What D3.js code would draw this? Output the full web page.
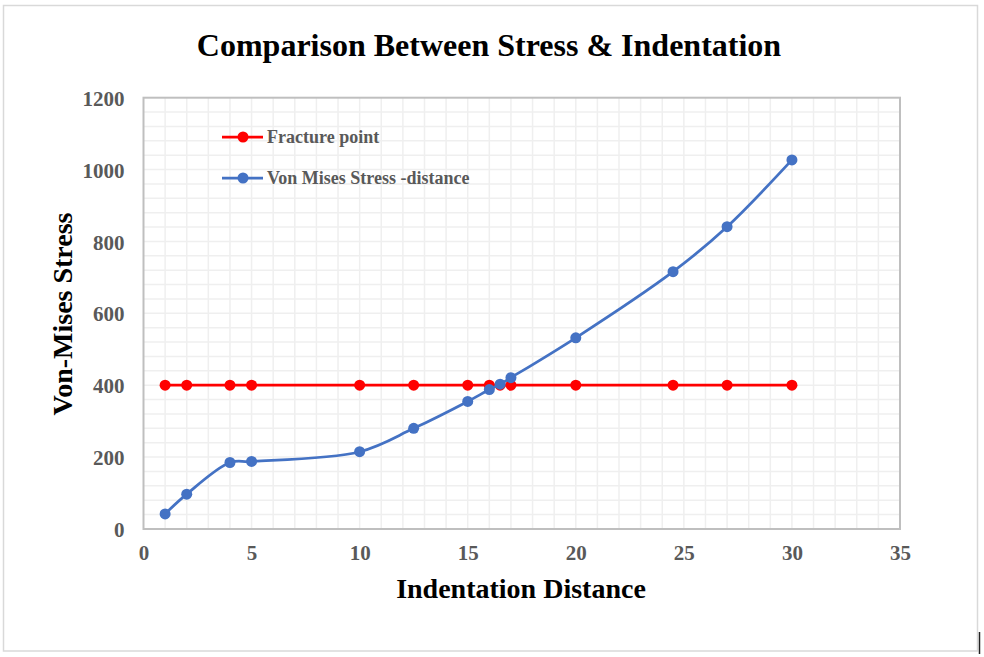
<!DOCTYPE html>
<html>
<head>
<meta charset="utf-8">
<script src="https://cdn.jsdelivr.net/npm/d3@7"></script>
<style>
  html, body { margin: 0; padding: 0; background: #fff; }
  svg { display: block; }
</style>
</head>
<body>
<script>
// ---- Data ----
const distance = [1, 2, 4, 5, 10, 12.5, 15, 16, 16.5, 17, 20, 24.5, 27, 30];
const vonMises = [42, 97, 185, 188, 215, 280, 355, 388, 403, 421, 532, 716, 841, 1027];
const fracture = [400, 400, 400, 400, 400, 400, 400, 400, 400, 400, 400, 400, 400, 400];
const xTicks = [0, 5, 10, 15, 20, 25, 30, 35];
const yTicks = [0, 200, 400, 600, 800, 1000, 1200];
const seriesNames = ["Fracture point", "Von Mises Stress -distance"];

const W = 984, H = 657;
const margin = { left: 143.5, right: 84, top: 97.7, bottom: 128 };
const svg = d3.select("body").append("svg").attr("width", W).attr("height", H);

// outer frame
svg.append("rect").attr("x", 3.5).attr("y", 5.5).attr("width", 974).attr("height", 645.5)
  .attr("fill", "#fff").attr("stroke", "#d9d9d9").attr("stroke-width", 1.5);
svg.append("line").attr("x1", 979.5).attr("x2", 979.5).attr("y1", 632).attr("y2", 654)
  .attr("stroke", "#222").attr("stroke-width", 1.5);

const x = d3.scaleLinear().domain([0, 35]).range([margin.left, W - margin.right]);
const y = d3.scaleLinear().domain([0, 1200]).range([H - margin.bottom, margin.top]);

// minor gridlines
const g = svg.append("g");
g.selectAll("line.vx").data(d3.range(1, 35)).join("line")
  .attr("x1", d => x(d)).attr("x2", d => x(d)).attr("y1", y(0)).attr("y2", y(1200))
  .attr("stroke", "#efefef").attr("stroke-width", 1.5);
g.selectAll("line.hy").data(d3.range(40, 1200, 40)).join("line")
  .attr("x1", x(0)).attr("x2", x(35)).attr("y1", d => y(d)).attr("y2", d => y(d))
  .attr("stroke", "#efefef").attr("stroke-width", 1.5);

// plot border
svg.append("rect").attr("x", x(0)).attr("y", y(1200)).attr("width", x(35) - x(0)).attr("height", y(0) - y(1200))
  .attr("fill", "none").attr("stroke", "#bfbfbf").attr("stroke-width", 2);

// axes (labels only)
const tickFont = "'Liberation Serif', 'Times New Roman', serif";
const xAxis = svg.append("g").attr("transform", `translate(0,${y(0)})`)
  .call(d3.axisBottom(x).tickValues(xTicks).tickSize(0).tickPadding(16).tickFormat(d3.format("d")));
const yAxis = svg.append("g").attr("transform", `translate(${x(0)},0)`)
  .call(d3.axisLeft(y).tickValues(yTicks).tickSize(0).tickPadding(19).tickFormat(d3.format("d")));
[xAxis, yAxis].forEach(a => {
  a.select(".domain").remove();
  a.selectAll("text").attr("font-family", tickFont).attr("font-weight", "bold")
    .attr("font-size", 21).attr("fill", "#595959");
});
yAxis.selectAll("text").attr("dy", "0.36em");

// lines
const lineStraight = d3.line().x((d, i) => x(distance[i])).y(d => y(d));
const lineSmooth = d3.line().x((d, i) => x(distance[i])).y(d => y(d)).curve(d3.curveCatmullRom.alpha(0.5));

const series = [
  { name: seriesNames[0], values: fracture, color: "#ff0000", gen: lineStraight },
  { name: seriesNames[1], values: vonMises, color: "#4472c4", gen: lineSmooth }
];
series.forEach(s => {
  svg.append("path").datum(s.values).attr("d", s.gen).attr("fill", "none")
    .attr("stroke", s.color).attr("stroke-width", 2.75);
  svg.append("g").selectAll("circle").data(s.values).join("circle")
    .attr("cx", (d, i) => x(distance[i])).attr("cy", d => y(d)).attr("r", 5.5)
    .attr("fill", s.color);
});

// legend
const leg = svg.append("g");
series.forEach((s, i) => {
  const ly = 137 + i * 41;
  leg.append("line").attr("x1", 222).attr("x2", 263).attr("y1", ly).attr("y2", ly)
    .attr("stroke", s.color).attr("stroke-width", 2.75);
  leg.append("circle").attr("cx", 243).attr("cy", ly).attr("r", 5.5).attr("fill", s.color);
  leg.append("text").attr("x", 267).attr("y", ly).attr("dy", "0.35em")
    .attr("font-family", tickFont).attr("font-weight", "bold").attr("font-size", 18)
    .attr("fill", "#595959").text(s.name);
});

// titles
svg.append("text").attr("x", 489).attr("y", 56).attr("text-anchor", "middle")
  .attr("font-family", tickFont).attr("font-weight", "bold").attr("font-size", 32)
  .attr("fill", "#000").text("Comparison Between Stress & Indentation");
svg.append("text").attr("x", 521).attr("y", 598).attr("text-anchor", "middle")
  .attr("font-family", tickFont).attr("font-weight", "bold").attr("font-size", 28)
  .attr("fill", "#000").text("Indentation Distance");
svg.append("text").attr("transform", `translate(72,314) rotate(-90)`).attr("text-anchor", "middle")
  .attr("font-family", tickFont).attr("font-weight", "bold").attr("font-size", 28)
  .attr("fill", "#000").text("Von-Mises Stress");
</script>
</body>
</html>
